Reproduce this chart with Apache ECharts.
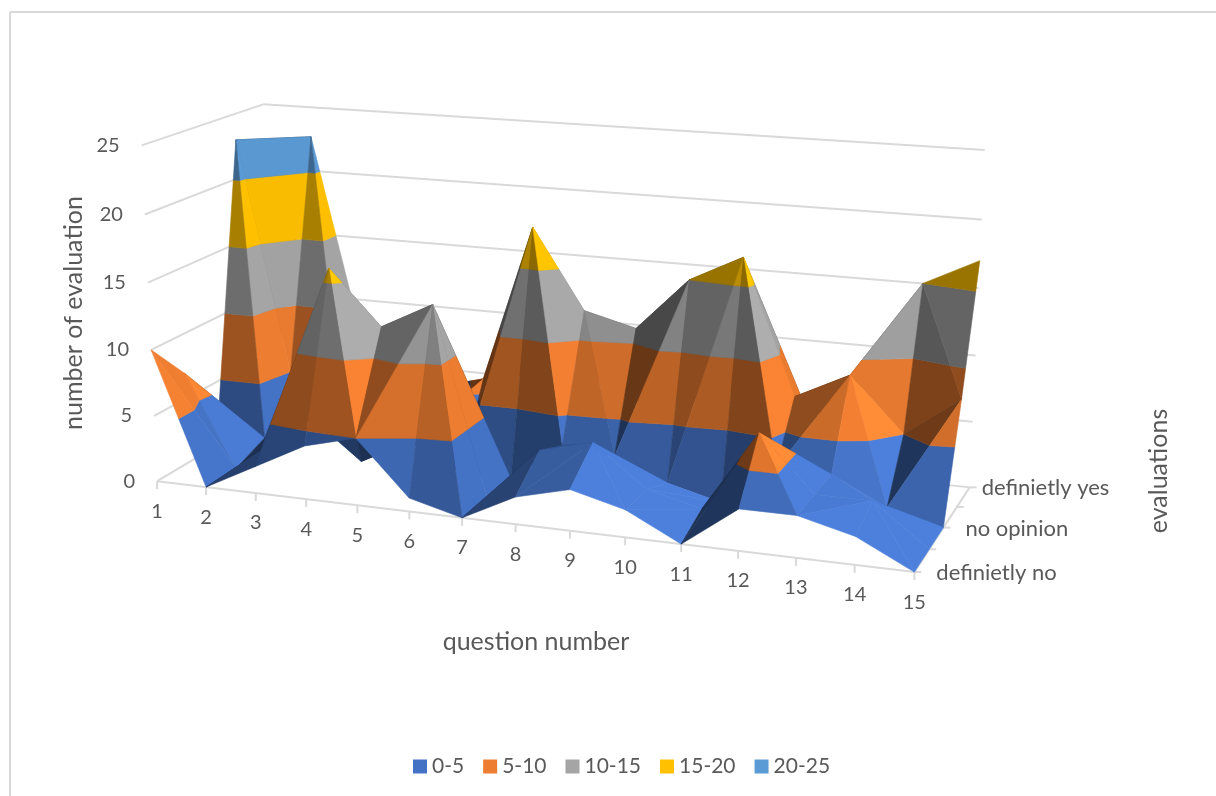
<!DOCTYPE html>
<html>
<head>
<meta charset="utf-8">
<style>html,body{margin:0;padding:0;background:#fff}#chart{width:1216px;height:796px}</style>
<script src="https://cdn.jsdelivr.net/npm/echarts@6/dist/echarts.min.js"></script>
</head>
<body>
<div id="chart"></div>
<script>
// Survey answers: number of evaluations per question and answer level.
const questionLabels = ['1','2','3','4','5','6','7','8','9','10','11','12','13','14','15'];
const valueTicks = [0, 5, 10, 15, 20, 25];
const evaluationRows = ['definietly no', '', 'no opinion', '', 'definietly yes'];

const definitelyNo = [10, 0, 2, 4, 5, 1, 0, 2, 3, 2, 0, 3, 3, 2, 0];
const ratherNo     = [7, 0, 3, 16, 12, 14, 0, 4, 5, 2, 1, 7, 3, 3, 0];
const noOpinion    = [1, 1, 3, 0, 2, 0, 0, 3, 2.6, 1, 0, 3, 3, 1, 0];
const ratherYes    = [23, 5, 5.5, 2, 2, 6, 18, 12, 11, 15, 17, 7, 9, 5, 8];
const definitelyYes= [1, 22.7, 6.5, 3, 4, 4, 8, 5, 3.5, 5, 6, 4, 7, 15, 17];
const rows = [definitelyNo, ratherNo, noOpinion, ratherYes, definitelyYes];

const bandNames  = ['0-5', '5-10', '10-15', '15-20', '20-25'];
const bandColors = ['#4472C4', '#ED7D31', '#A5A5A5', '#FFC000', '#5B9BD5'];
const bandStep = 5;
const valueMax = 25;

// Camera reference pairs: [along questions, along evaluations, height] -> screen point.
const cameraPairs = [
  [0,0,0,158,481],[1,0,0,915,572],[0,1,0,273,413],[1,1,0,970,487],
  [0,0,1,142,146],[0,1,1,263,104],[1,1,1,985,150],[0.5,0,0,515,525],
  [0,0,0.4,150,349],[1,1,0.4,975,356],[1,0.5,0,943,527],[0,1,0.4,270,291]
];

function solveCamera(pairs) {
  const n = 11, A = Array.from({length:n}, () => new Array(n + 1).fill(0));
  const add = (c, t) => {
    for (let i = 0; i < n; i++) {
      for (let j = 0; j < n; j++) A[i][j] += c[i] * c[j];
      A[i][n] += c[i] * t;
    }
  };
  pairs.forEach(([u,w,h,x,y]) => {
    add([u,w,h,1,0,0,0,0,-x*u,-x*w,-x*h], x);
    add([0,0,0,0,u,w,h,1,-y*u,-y*w,-y*h], y);
  });
  for (let c = 0; c < n; c++) {
    let p = c;
    for (let r = c + 1; r < n; r++) if (Math.abs(A[r][c]) > Math.abs(A[p][c])) p = r;
    [A[c], A[p]] = [A[p], A[c]];
    for (let r = 0; r < n; r++) {
      if (r === c) continue;
      const f = A[r][c] / A[c][c];
      for (let k = c; k <= n; k++) A[r][k] -= f * A[c][k];
    }
  }
  return A.map((row, i) => row[n] / row[i]);
}
const cam = solveCamera(cameraPairs);
const depthOf = (u, w, h) => cam[8]*u + cam[9]*w + cam[10]*h + 1;
function project(u, w, h) {
  const d = depthOf(u, w, h);
  return [(cam[0]*u + cam[1]*w + cam[2]*h + cam[3]) / d,
          (cam[4]*u + cam[5]*w + cam[6]*h + cam[7]) / d];
}
const qLast = questionLabels.length - 1, rLast = rows.length - 1;
const uOf = q => q / qLast, wOf = r => r / rLast;
const vertex = (q, r) => [q, r, rows[r][q]];
const toScreen = p => project(uOf(p[0]), wOf(p[1]), p[2] / valueMax);

// Each cell is cut along the diagonal carrying the larger pair of heights.
function cellTriangles(q, r) {
  const a = vertex(q, r), b = vertex(q+1, r), c = vertex(q+1, r+1), d = vertex(q, r+1);
  const tris = (a[2] + c[2] >= b[2] + d[2]) ? [[a,b,c],[a,c,d]] : [[a,b,d],[b,c,d]];
  const far = t => t.reduce((s, v) => s + depthOf(uOf(v[0]), wOf(v[1]), v[2] / valueMax), 0);
  return tris.sort((s, t) => far(t) - far(s));
}

function clipHeight(poly, limit, keepAbove) {
  const out = [], inside = v => keepAbove ? v[2] >= limit : v[2] <= limit;
  poly.forEach((cur, i) => {
    const next = poly[(i + 1) % poly.length];
    if (inside(cur)) out.push(cur);
    if (inside(cur) !== inside(next)) {
      const t = (limit - cur[2]) / (next[2] - cur[2]);
      out.push([cur[0] + t*(next[0]-cur[0]), cur[1] + t*(next[1]-cur[1]), limit]);
    }
  });
  return out;
}

// Facet brightness from a low light on the right hand side.
const light = [0.6, -0.2, 0.8];
function facetShade(t) {
  const sq = 2, sr = 3;
  const e1 = [(t[1][0]-t[0][0])*sq, (t[1][1]-t[0][1])*sr, t[1][2]-t[0][2]];
  const e2 = [(t[2][0]-t[0][0])*sq, (t[2][1]-t[0][1])*sr, t[2][2]-t[0][2]];
  let n = [e1[1]*e2[2]-e1[2]*e2[1], e1[2]*e2[0]-e1[0]*e2[2], e1[0]*e2[1]-e1[1]*e2[0]];
  if (n[2] < 0) n = n.map(v => -v);
  const len = Math.hypot(n[0], n[1], n[2]);
  const dot = (n[0]*light[0] + n[1]*light[1] + n[2]*light[2]) / len;
  return Math.min(1.12, Math.max(0.42, 0.4 + 0.85 * dot));
}
function shadeColor(hex, f) {
  const v = [1,3,5].map(i => Math.min(255, Math.round(parseInt(hex.substr(i,2),16) * f)));
  return 'rgb(' + v.join(',') + ')';
}

// One list of facets per band, with a shared back-to-front paint order.
const facets = bandNames.map(() => []);
let paintOrder = 10;
for (let r = rLast - 1; r >= 0; r--) {
  for (let q = 0; q < qLast; q++) {
    cellTriangles(q, r).forEach(tri => {
      const f = facetShade(tri);
      bandNames.forEach((_, b) => {
        let poly = clipHeight(tri, b * bandStep, true);
        if (poly.length) poly = clipHeight(poly, (b + 1) * bandStep, false);
        if (poly.length >= 3) {
          facets[b].push({points: poly.map(toScreen), fill: shadeColor(bandColors[b], f), z2: paintOrder});
        }
      });
      paintOrder++;
    });
  }
}

// Walls, floor edges and tick marks.
const frame = [];
const seg = (a, b) => frame.push([project(...a), project(...b)]);
valueTicks.forEach(v => {
  const h = v / valueMax;
  seg([0,0,h],[0,1,h]);
  seg([0,1,h],[1,1,h]);
});
seg([0,0,0],[1,0,0]);
seg([1,0,0],[1,1,0]);
questionLabels.forEach((_, q) => {
  const p = project(uOf(q),0,0);
  frame.push([p,[p[0],p[1]+8]]);
});
evaluationRows.forEach((_, r) => {
  const p = project(1,wOf(r),0);
  frame.push([p,[p[0]+7,p[1]]]);
});

const textColor = '#595959';
const fontFamily = 'Lato, "Open Sans", sans-serif';
const tickText = [];
questionLabels.forEach((s, q) => {
  const p = project(uOf(q),0,0);
  tickText.push({text:s, x:p[0], y:p[1]+30, align:'center', size:20});
});
valueTicks.forEach(v => {
  const p = project(0,0,v/valueMax);
  tickText.push({text:String(v), x:p[0]-22, y:p[1], align:'right', size:20});
});
evaluationRows.forEach((s, r) => {
  if (!s) return;
  const p = project(1,wOf(r),0);
  tickText.push({text:s, x:p[0] + (r === rLast ? 12 : 22), y:p[1]+1, align:'left', size:22});
});

const bandSeries = bandNames.map((name, b) => ({
  name, type: 'custom', coordinateSystem: 'cartesian2d', z: 3, silent: true, clip: false,
  animation: false, itemStyle: {color: bandColors[b]},
  data: facets[b].map((f, i) => [f.points[0][0], f.points[0][1], i]),
  encode: {x: 0, y: 1},
  renderItem: (params, api) => {
    const f = facets[b][api.value(2)];
    return {
      type: 'polygon', z2: f.z2,
      shape: {points: f.points.map(p => api.coord(p))},
      style: {fill: f.fill, stroke: f.fill, lineWidth: 0.6}
    };
  }
}));

const frameSeries = {
  type: 'custom', coordinateSystem: 'cartesian2d', z: 1, silent: true, clip: false, animation: false,
  data: frame.map((s, i) => [s[0][0], s[0][1], i]), encode: {x: 0, y: 1},
  renderItem: (params, api) => {
    const s = frame[api.value(2)], a = api.coord(s[0]), b = api.coord(s[1]);
    return {type: 'line', shape: {x1:a[0], y1:a[1], x2:b[0], y2:b[1]},
            style: {stroke: '#D9D9D9', lineWidth: 2}};
  }
};

const textSeries = {
  type: 'custom', coordinateSystem: 'cartesian2d', z: 4, silent: true, clip: false, animation: false,
  data: tickText.map((t, i) => [t.x, t.y, i]), encode: {x: 0, y: 1},
  renderItem: (params, api) => {
    const t = tickText[api.value(2)], c = api.coord([t.x, t.y]);
    return {type: 'text', x: c[0], y: c[1],
            style: {text: t.text, fill: textColor, font: t.size + 'px ' + fontFamily, align: t.align, verticalAlign: 'middle'}};
  }
};

const chart = echarts.init(document.getElementById('chart'), null, {renderer: 'canvas'});
const axisTitle = (text, x, y, rotation) => ({
  type: 'text', x, y, rotation, silent: true,
  style: {text, fill: textColor, font: '25px ' + fontFamily, align: 'center', verticalAlign: 'middle'}
});
chart.setOption({
  animation: false,
  backgroundColor: '#fff',
  grid: {left: 0, right: 0, top: 0, bottom: 0},
  xAxis: {type: 'value', min: 0, max: 1216, show: false},
  yAxis: {type: 'value', min: 0, max: 796, inverse: true, show: false},
  legend: {
    data: bandNames, left: 408, top: 751, icon: 'rect', itemWidth: 14, itemHeight: 14, itemGap: 19,
    selectedMode: false, textStyle: {color: textColor, fontSize: 21, fontFamily}
  },
  graphic: [
    {type: 'line', silent: true, shape: {x1: 10, y1: 12, x2: 1216, y2: 12}, style: {stroke: '#D9D9D9', lineWidth: 2}},
    {type: 'line', silent: true, shape: {x1: 10, y1: 12, x2: 10, y2: 796}, style: {stroke: '#D9D9D9', lineWidth: 2}},
    axisTitle('question number', 536, 642, 0),
    axisTitle('number of evaluation', 74, 313, Math.PI / 2),
    axisTitle('evaluations', 1159, 471, Math.PI / 2)
  ],
  series: [frameSeries, ...bandSeries, textSeries]
});
</script>
</body>
</html>
